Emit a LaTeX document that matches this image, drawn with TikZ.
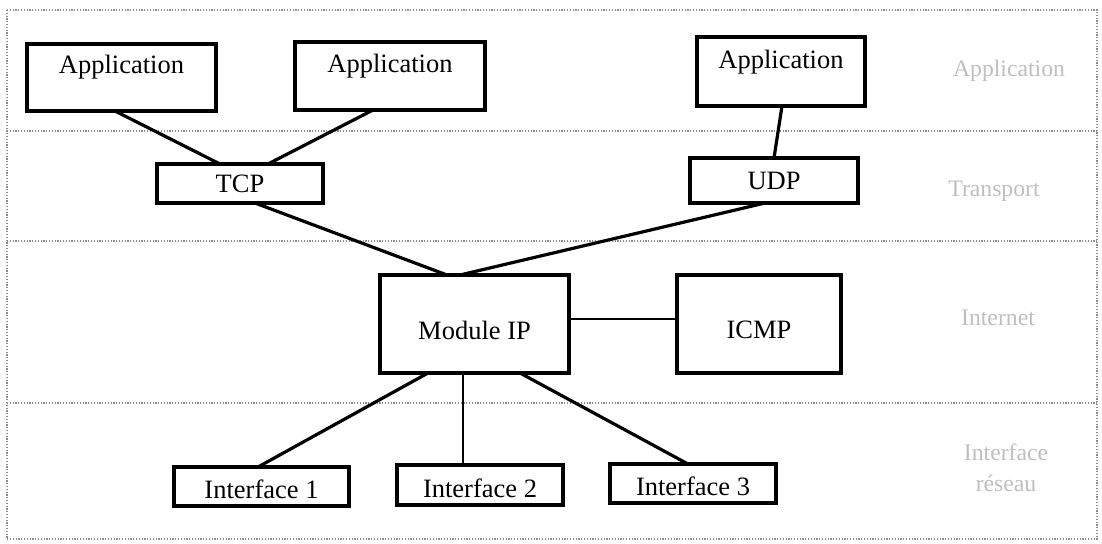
\documentclass[tikz,border=0pt]{standalone}
\usepackage{fontspec}
\setmainfont{Liberation Serif}
\begin{document}
\begin{tikzpicture}[x=1pt,y=-1pt,
  box/.style={draw=black, line width=4.5pt, rectangle, inner sep=0pt, outer sep=0pt,
    font=\fontsize{26.5}{28}\selectfont, text height=18pt, text depth=0pt},
  appbox/.style={box, text height=18pt, text depth=25pt},
  link/.style={draw=black, line width=3.2pt},
  thinlink/.style={draw=black, line width=2.4pt},
  layerline/.style={draw=black!45, line width=1.2pt, dash pattern=on 1.2pt off 1.6pt},
  layername/.style={text=black!25, font=\fontsize{23.7}{26}\selectfont, align=center, inner sep=0pt}]
\useasboundingbox (0,0) rectangle (1102,543);

% frame and layer separators
\draw[layerline] (7,10) rectangle (1097,539);
\draw[layerline] (7,131) -- (1097,131);
\draw[layerline] (7,241) -- (1097,241);
\draw[layerline] (7,403) -- (1097,403);

% layer names
\node[layername] (lapp) at (1009,71) {Application};
\node[layername] (ltrans) at (994,191) {Transport};
\node[layername] (linet) at (998,318) {Internet};
\node[layername] (lif) at (1006,468) {Interface\\[5pt]réseau};

% application layer
\node[appbox, minimum width=189pt, minimum height=67pt] (app1) at (121.5,77.5) {Application};
\node[appbox, minimum width=190pt, minimum height=68pt] (app2) at (390,76) {Application};
\node[appbox, minimum width=168pt, minimum height=69pt] (app3) at (781,71.5) {Application};

% transport layer
\node[box, minimum width=166pt, minimum height=39pt] (tcp) at (240,183.5) {TCP};
\node[box, minimum width=168pt, minimum height=45pt] (udp) at (774,180.5) {UDP};

% internet layer
\node[box, text height=30pt, minimum width=189pt, minimum height=98pt] (ip) at (474.5,324) {Module IP};
\node[box, text height=28pt, minimum width=164pt, minimum height=98pt] (icmp) at (759,324) {ICMP};

% network interfaces
\node[box, text height=23pt, minimum width=175pt, minimum height=39pt] (if1) at (261.5,486.5) {Interface 1};
\node[box, text height=24pt, minimum width=166pt, minimum height=40pt] (if2) at (480,485) {Interface 2};
\node[box, text height=24pt, minimum width=166pt, minimum height=39pt] (if3) at (693,483.5) {Interface 3};

% connections
\draw[link] ([xshift=-6.5pt]app1.south) -- ([xshift=-20pt]tcp.north);
\draw[link] ([xshift=-17pt]app2.south) -- ([xshift=28pt]tcp.north);
\draw[link] ([xshift=1pt]app3.south) -- (udp.north);
\draw[link] ([xshift=15pt]tcp.south) -- ([xshift=-27.5pt]ip.north);
\draw[link] ([xshift=-9pt]udp.south) -- ([xshift=-14.5pt]ip.north);
\draw[thinlink] ([yshift=5pt]ip.east) -- ([yshift=5pt]icmp.west);
\draw[link] ([xshift=-46.5pt]ip.south) -- ([xshift=-3.5pt]if1.north);
\draw[thinlink] ([xshift=-11.5pt]ip.south) -- ([xshift=-17pt]if2.north);
\draw[link] ([xshift=45.5pt]ip.south) -- ([xshift=-5pt]if3.north);
\end{tikzpicture}
\end{document}
